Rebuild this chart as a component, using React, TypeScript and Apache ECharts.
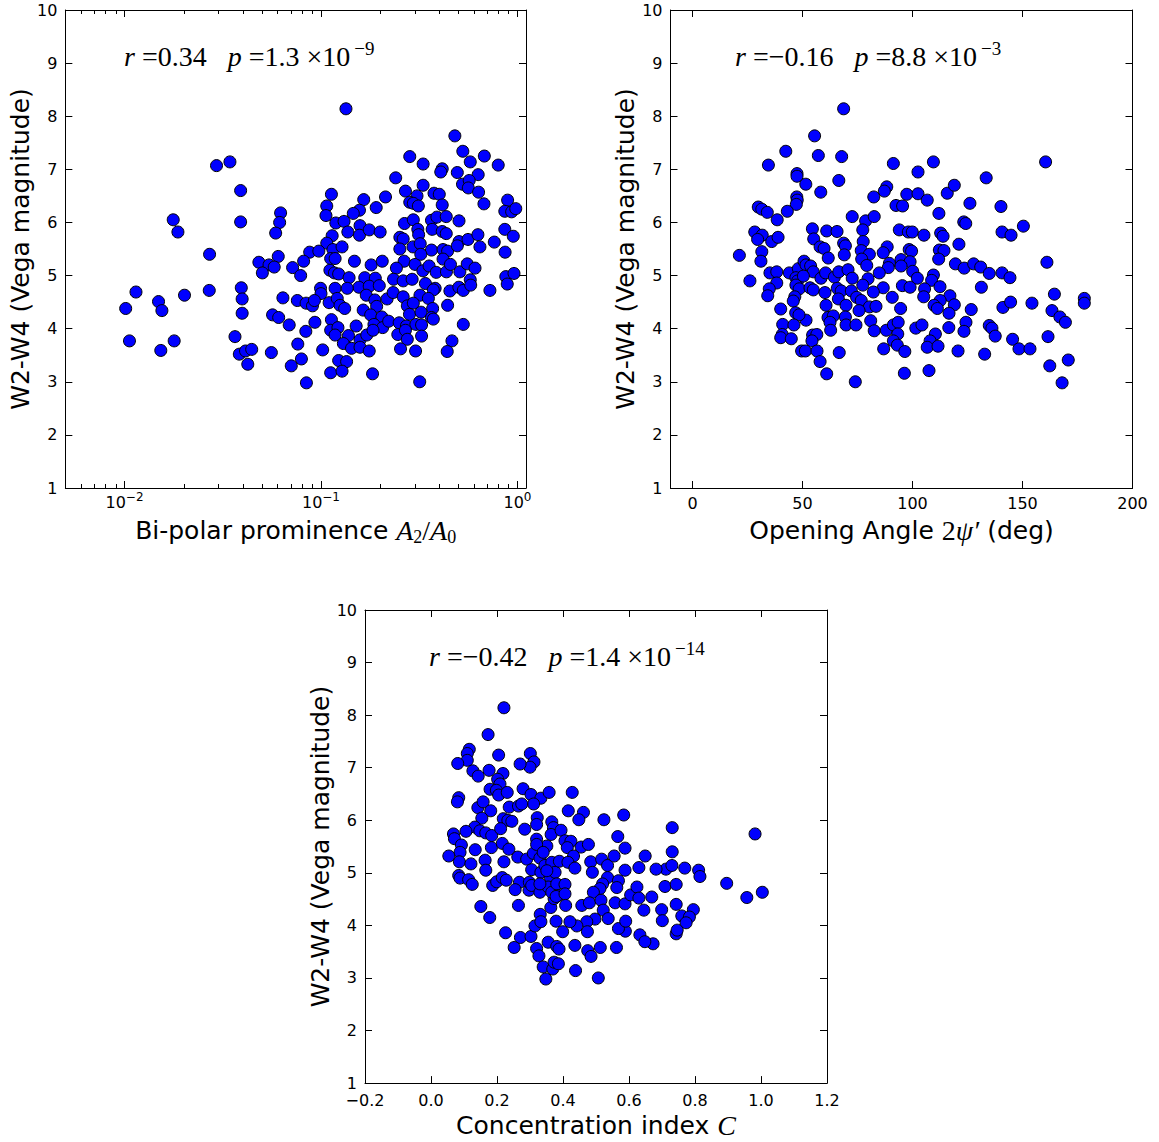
import React, { useEffect, useRef } from 'react';
import * as echarts from 'echarts';

// ---------- data ----------
// Panel 1: bi-polar prominence A2/A0 vs W2-W4
const bipolarPoints: [number, number][] = [
  [0.0294, 7.07], [0.0344, 7.14], [0.039, 6.6], [0.0177, 6.05], [0.0187, 5.82], [0.039, 6.01], [0.0271, 5.4],
  [0.01144, 4.69], [0.01014, 4.38], [0.0149, 4.51], [0.0155, 4.34], [0.0202, 4.63], [0.027, 4.72], [0.0393, 4.77],
  [0.0397, 4.56], [0.0397, 4.29], [0.0106, 3.77], [0.0153, 3.59], [0.0179, 3.77], [0.0365, 3.85], [0.0384, 3.52],
  [0.0413, 3.58], [0.0444, 3.61], [0.0424, 3.33],
  [0.134, 8.14], [0.113, 6.53], [0.165, 6.43], [0.213, 6.48], [0.107, 6.31], [0.106, 6.13], [0.157, 6.23],
  [0.146, 6.17], [0.191, 6.28], [0.0623, 6.18], [0.0616, 6.0], [0.0588, 5.8], [0.119, 5.99], [0.131, 6.02],
  [0.158, 5.94], [0.137, 5.82], [0.157, 5.76], [0.176, 5.86], [0.2, 5.82], [0.114, 5.75], [0.107, 5.61],
  [0.115, 5.49], [0.128, 5.54], [0.0876, 5.44], [0.0975, 5.46], [0.112, 5.32], [0.118, 5.32], [0.0816, 5.27],
  [0.0717, 5.15], [0.0788, 5.0], [0.0606, 5.36], [0.0483, 5.25], [0.0544, 5.2], [0.0578, 5.16], [0.0503, 5.05],
  [0.148, 5.27], [0.18, 5.2], [0.205, 5.27], [0.111, 5.1], [0.117, 5.05], [0.123, 5.03], [0.139, 4.96],
  [0.167, 4.96], [0.189, 4.95], [0.156, 4.78], [0.176, 4.8], [0.198, 4.81], [0.0995, 4.76], [0.118, 4.76],
  [0.136, 4.76], [0.1, 4.66], [0.064, 4.58], [0.0758, 4.53], [0.084, 4.48], [0.0905, 4.43], [0.0926, 4.53],
  [0.11, 4.49], [0.121, 4.57], [0.125, 4.44], [0.132, 4.38], [0.17, 4.63], [0.188, 4.54], [0.217, 4.56],
  [0.164, 4.35], [0.192, 4.42], [0.0567, 4.26], [0.0609, 4.21], [0.0689, 4.07], [0.0931, 4.12], [0.0837, 3.95],
  [0.113, 4.17], [0.112, 3.97], [0.122, 4.02], [0.151, 4.05], [0.179, 4.26], [0.204, 4.22], [0.186, 4.08],
  [0.206, 4.02], [0.221, 4.14], [0.118, 3.88], [0.138, 3.87], [0.158, 3.79], [0.171, 3.88], [0.184, 3.97],
  [0.13, 3.72], [0.143, 3.63], [0.158, 3.65], [0.176, 3.58], [0.0762, 3.71], [0.102, 3.6], [0.0559, 3.55],
  [0.0795, 3.43], [0.0706, 3.3], [0.123, 3.4], [0.135, 3.38], [0.112, 3.17], [0.128, 3.2], [0.0843, 2.98],
  [0.183, 3.15],
  [0.48, 7.63], [0.527, 7.34], [0.575, 7.14], [0.678, 7.25], [0.798, 7.08], [0.283, 7.24], [0.331, 7.1],
  [0.414, 7.01], [0.407, 6.95], [0.494, 6.94], [0.631, 6.9], [0.24, 6.84], [0.331, 6.7], [0.525, 6.72],
  [0.568, 6.79], [0.562, 6.65], [0.634, 6.57], [0.675, 6.35], [0.269, 6.59], [0.308, 6.5], [0.283, 6.38],
  [0.295, 6.36], [0.313, 6.31], [0.376, 6.55], [0.4, 6.53], [0.414, 6.33], [0.891, 6.42], [0.862, 6.21],
  [0.934, 6.2], [0.98, 6.26], [0.365, 6.04], [0.389, 6.1], [0.434, 6.11], [0.504, 6.03], [0.266, 5.98],
  [0.295, 6.05], [0.311, 5.87], [0.314, 5.77], [0.368, 5.87], [0.414, 5.83], [0.434, 5.79], [0.252, 5.72],
  [0.262, 5.69], [0.252, 5.5], [0.294, 5.54], [0.32, 5.6], [0.365, 5.48], [0.418, 5.49], [0.441, 5.46],
  [0.504, 5.64], [0.494, 5.56], [0.56, 5.68], [0.629, 5.77], [0.644, 5.54], [0.762, 5.63], [0.862, 5.87],
  [0.952, 5.74], [0.865, 5.44], [0.265, 5.27], [0.301, 5.21], [0.322, 5.4], [0.242, 5.14], [0.33, 5.09],
  [0.355, 5.18], [0.386, 5.06], [0.418, 5.31], [0.435, 5.07], [0.456, 5.21], [0.509, 5.07], [0.555, 5.22],
  [0.608, 5.14], [0.234, 4.93], [0.262, 4.9], [0.291, 4.93], [0.34, 4.85], [0.381, 4.76], [0.373, 4.73],
  [0.453, 4.71], [0.503, 4.78], [0.53, 4.72], [0.575, 4.92], [0.578, 4.82], [0.724, 4.72], [0.872, 4.98],
  [0.887, 4.84], [0.96, 5.04], [0.233, 4.68], [0.262, 4.6], [0.319, 4.63], [0.352, 4.57], [0.275, 4.43],
  [0.295, 4.48], [0.37, 4.38], [0.441, 4.44], [0.282, 4.27], [0.323, 4.31], [0.365, 4.21], [0.373, 4.18],
  [0.25, 4.11], [0.272, 4.05], [0.304, 4.08], [0.325, 4.07], [0.53, 4.08], [0.246, 3.89], [0.269, 3.97],
  [0.275, 3.8], [0.325, 3.86], [0.254, 3.62], [0.303, 3.58], [0.464, 3.77], [0.439, 3.57], [0.318, 3.0],
];

// Panel 2: opening angle 2psi' (deg) vs W2-W4
const anglePoints: [number, number][] = [
  [68.7, 8.14], [55.5, 7.63], [42.4, 7.34], [57.2, 7.26], [67.8, 7.24], [34.5, 7.08], [47.5, 6.92], [47.5, 6.87],
  [51.5, 6.72], [66.5, 6.79], [58.3, 6.57], [47.4, 6.48], [47.6, 6.42], [47.2, 6.34], [43.1, 6.21], [29.9, 6.29],
  [31.5, 6.25], [34.0, 6.19], [38.5, 6.05], [72.6, 6.11], [28.3, 5.82], [31.7, 5.76], [29.6, 5.68], [36.0, 5.64],
  [38.9, 5.72], [54.5, 5.88], [55.1, 5.69], [61.0, 5.84], [65.7, 5.83], [68.7, 5.61], [69.5, 5.56], [69.0, 5.39],
  [58.0, 5.54], [59.8, 5.51], [61.7, 5.33], [21.3, 5.38], [31.5, 5.45], [31.1, 5.27], [26.1, 4.9], [35.2, 5.05],
  [38.3, 5.07], [38.3, 4.86], [34.9, 4.75], [34.2, 4.62], [44.0, 5.05], [48.1, 5.13], [50.7, 5.27], [51.6, 5.2],
  [53.7, 5.18], [54.9, 5.07], [47.0, 4.96], [47.8, 4.9], [50.4, 4.99], [47.0, 4.82], [48.5, 4.75], [53.4, 4.77],
  [54.9, 4.73], [58.4, 4.95], [60.5, 5.05], [64.5, 4.97], [66.5, 5.07], [70.7, 5.11], [72.6, 4.95], [60.2, 4.68],
  [65.8, 4.76], [67.6, 4.71], [72.2, 4.71], [74.6, 4.59], [66.3, 4.56], [46.5, 4.6], [45.8, 4.52], [40.1, 4.37],
  [60.7, 4.44], [69.8, 4.44], [46.9, 4.3], [51.6, 4.16], [48.4, 4.26], [41.0, 4.08], [46.1, 4.07], [61.6, 4.21],
  [64.0, 4.24], [62.5, 4.12], [62.8, 3.97], [69.5, 4.22], [69.8, 4.07], [74.3, 4.07], [40.8, 3.89], [40.1, 3.83],
  [44.9, 3.81], [54.6, 3.88], [56.5, 3.89], [54.3, 3.77], [49.6, 3.58], [51.3, 3.58], [56.6, 3.58], [66.7, 3.55],
  [58.0, 3.38], [61.0, 3.15], [74.0, 3.0],
  [91.3, 7.11], [109.5, 7.14], [102.5, 6.95], [133.5, 6.84], [88.3, 6.67], [87.2, 6.59], [82.4, 6.48], [97.4, 6.53],
  [102.5, 6.54], [106.7, 6.42], [92.5, 6.32], [95.5, 6.31], [115.8, 6.55], [119.0, 6.7], [126.1, 6.36], [112.0, 6.17],
  [78.7, 6.03], [82.6, 6.11], [77.4, 5.86], [94.0, 5.86], [98.1, 5.82], [99.9, 5.82], [105.2, 5.76], [112.8, 5.8],
  [113.9, 5.74], [123.3, 6.01], [124.2, 5.98], [121.1, 5.59], [77.6, 5.64], [76.7, 5.47], [80.4, 5.4], [76.9, 5.31],
  [79.2, 5.19], [88.5, 5.54], [86.7, 5.43], [98.5, 5.49], [99.6, 5.46], [112.2, 5.48], [114.3, 5.47], [111.9, 5.31],
  [94.8, 5.3], [98.9, 5.26], [89.5, 5.23], [89.0, 5.15], [94.8, 5.18], [84.9, 5.05], [100.1, 5.08], [102.2, 4.95],
  [109.5, 5.01], [108.7, 4.91], [119.5, 5.22], [123.5, 5.14], [127.8, 5.22], [131.0, 5.16], [79.8, 4.94], [77.4, 4.82],
  [86.7, 4.77], [90.8, 4.59], [95.4, 4.81], [98.9, 4.78], [82.2, 4.69], [76.7, 4.53], [80.4, 4.41], [83.4, 4.42],
  [75.7, 4.34], [105.5, 4.75], [105.1, 4.6], [112.5, 4.79], [117.0, 4.62], [112.6, 4.53], [109.8, 4.44], [111.3, 4.38],
  [119.0, 4.45], [116.6, 4.29], [126.7, 4.36], [94.6, 4.38], [81.0, 4.15], [82.6, 3.96], [88.1, 3.97], [91.3, 4.07],
  [93.5, 4.12], [93.3, 3.9], [91.3, 3.77], [93.1, 3.69], [96.5, 3.57], [86.9, 3.62], [101.5, 4.01], [104.3, 4.07],
  [116.5, 4.02], [124.3, 4.12], [123.4, 3.95], [110.4, 3.9], [108.0, 3.77], [106.7, 3.65], [111.6, 3.67], [120.7, 3.58],
  [96.3, 3.16], [107.5, 3.21],
  [160.5, 7.14], [140.2, 6.3], [140.7, 5.82], [144.8, 5.76], [150.4, 5.93], [134.9, 5.04], [140.7, 5.05], [144.3, 4.96],
  [131.3, 4.78], [161.1, 5.25], [164.5, 4.65], [141.1, 4.4], [144.6, 4.5], [154.3, 4.48], [163.4, 4.34], [167.0, 4.22],
  [169.5, 4.12], [178.1, 4.57], [178.1, 4.48], [134.9, 4.06], [136.1, 4.01], [137.6, 3.86], [145.5, 3.8], [148.4, 3.62],
  [153.4, 3.62], [161.6, 3.85], [132.8, 3.52], [162.4, 3.3], [170.8, 3.41], [168.0, 2.98],
];

// Panel 3: concentration index C vs W2-W4
const concPoints: [number, number][] = [
  [0.221, 8.14], [0.173, 7.63], [0.116, 7.35], [0.11, 7.27], [0.11, 7.14], [0.081, 7.08], [0.205, 7.24], [0.301, 7.27],
  [0.312, 7.11], [0.3, 7.01], [0.27, 7.07], [0.127, 6.94], [0.143, 6.84], [0.176, 6.95], [0.218, 6.89], [0.202, 6.78],
  [0.209, 6.69], [0.179, 6.59], [0.198, 6.57], [0.205, 6.48], [0.231, 6.53], [0.279, 6.6], [0.303, 6.49], [0.333, 6.42],
  [0.358, 6.53], [0.311, 6.31], [0.084, 6.43], [0.08, 6.35], [0.142, 6.24], [0.158, 6.35], [0.181, 6.18], [0.237, 6.25],
  [0.265, 6.27], [0.275, 6.31], [0.154, 6.04], [0.219, 6.03], [0.233, 6.0], [0.245, 5.98], [0.322, 6.05], [0.133, 5.87],
  [0.106, 5.79], [0.068, 5.74], [0.071, 5.65], [0.148, 5.8], [0.166, 5.76], [0.184, 5.71], [0.211, 5.84], [0.284, 5.83],
  [0.32, 5.92], [0.366, 5.97], [0.371, 5.86], [0.364, 5.73], [0.32, 5.64], [0.351, 5.51], [0.092, 5.53], [0.134, 5.44],
  [0.183, 5.48], [0.216, 5.56], [0.236, 5.45], [0.263, 5.3], [0.088, 5.39], [0.054, 5.32], [0.086, 5.21], [0.121, 5.17],
  [0.164, 5.24], [0.166, 5.05], [0.221, 5.21], [0.29, 5.26], [0.31, 5.37], [0.33, 5.28], [0.084, 4.95], [0.088, 4.9],
  [0.114, 4.87], [0.125, 4.78], [0.187, 4.76], [0.199, 4.83], [0.216, 4.91], [0.228, 4.86], [0.268, 4.82], [0.255, 4.68],
  [0.297, 4.67], [0.298, 4.82], [0.305, 5.06], [0.305, 4.76], [0.33, 4.63], [0.333, 5.01], [0.345, 5.14], [0.361, 4.92],
  [0.355, 4.73], [0.151, 4.36], [0.265, 4.38], [0.331, 4.21], [0.363, 4.34], [0.373, 4.51], [0.178, 4.15], [0.226, 3.86],
  [0.271, 3.77], [0.252, 3.58], [0.303, 3.79], [0.315, 3.99], [0.333, 4.07], [0.379, 4.08], [0.355, 3.68], [0.32, 3.56],
  [0.327, 3.42], [0.381, 3.6], [0.34, 3.21], [0.369, 3.17], [0.373, 3.3], [0.348, 2.98], [0.32, 5.54], [0.34, 5.39],
  [0.366, 5.2], [0.376, 5.01], [0.351, 5.04], [0.33, 4.79], [0.366, 4.63], [0.386, 4.57],
  [0.428, 6.53], [0.416, 6.18], [0.462, 6.15], [0.448, 6.01], [0.524, 6.01], [0.584, 6.1], [0.731, 5.86], [0.566, 5.69],
  [0.394, 5.81], [0.406, 5.61], [0.424, 5.6], [0.413, 5.48], [0.455, 5.49], [0.477, 5.54], [0.432, 5.32], [0.389, 5.22],
  [0.415, 5.2], [0.436, 5.09], [0.484, 5.21], [0.489, 5.01], [0.517, 5.26], [0.535, 5.14], [0.555, 5.32], [0.588, 5.47],
  [0.649, 5.32], [0.63, 5.1], [0.588, 5.05], [0.535, 4.91], [0.52, 4.79], [0.512, 4.7], [0.568, 4.85], [0.563, 4.72],
  [0.492, 4.63], [0.381, 4.79], [0.406, 4.78], [0.379, 4.55], [0.406, 4.6], [0.408, 4.38], [0.457, 4.38], [0.48, 4.43],
  [0.515, 4.48], [0.522, 4.29], [0.558, 4.43], [0.588, 4.41], [0.605, 4.58], [0.624, 4.73], [0.63, 4.52], [0.645, 4.29],
  [0.669, 4.54], [0.699, 4.3], [0.709, 4.74], [0.712, 5.07], [0.682, 5.07], [0.731, 5.4], [0.743, 4.78], [0.701, 4.09],
  [0.743, 4.4], [0.743, 3.84], [0.673, 3.65], [0.633, 3.82], [0.648, 3.69], [0.589, 3.89], [0.568, 3.94], [0.59, 4.08],
  [0.537, 4.13], [0.497, 4.12], [0.472, 4.07], [0.442, 3.99], [0.474, 3.88], [0.421, 4.07], [0.399, 3.88], [0.388, 3.55],
  [0.436, 3.62], [0.475, 3.52], [0.485, 3.41], [0.513, 3.58], [0.562, 3.58], [0.386, 3.27], [0.438, 3.14], [0.507, 3.0],
  [0.982, 5.74], [0.73, 5.14], [0.769, 5.09], [0.811, 5.05], [0.815, 4.93], [0.896, 4.8], [0.957, 4.53], [1.004, 4.63],
  [0.795, 4.3], [0.76, 4.18], [0.783, 4.16], [0.773, 4.05], [0.746, 3.91],
];

// Axis ticks
const bipolarMinorTicks = [
  0.006, 0.007, 0.008, 0.009,
  0.02, 0.03, 0.04, 0.05, 0.06, 0.07, 0.08, 0.09,
  0.2, 0.3, 0.4, 0.5, 0.6, 0.7, 0.8, 0.9,
];
const angleTicks = [0, 50, 100, 150, 200];

// Correlation annotations
const statR = ['0.34', '−0.16', '−0.42'];
const statP = ['1.3', '8.8', '1.4'];
const statExp = ['−9', '−3', '−14'];

// ---------- styling ----------
const SANS = "'DejaVu Sans', sans-serif";
const SERIF = "'Liberation Serif', 'DejaVu Serif', serif";
const BLACK = '#000';

const axisLine = { show: true, onZero: false, lineStyle: { color: BLACK, width: 1 } };
const majorTick = { show: true, inside: true, length: 7, lineStyle: { color: BLACK, width: 1 } };

const nameRich = {
  m: { fontFamily: SERIF, fontStyle: 'italic', fontSize: 28, lineHeight: 32, color: BLACK },
  r: { fontFamily: SERIF, fontSize: 28, lineHeight: 32, color: BLACK },
  sub: { fontFamily: SERIF, fontSize: 18, lineHeight: 18, verticalAlign: 'bottom', color: BLACK },
};
const nameStyle = { fontFamily: SANS, fontSize: 25, color: BLACK, lineHeight: 32, rich: nameRich };

const grids = [
  { left: 65.35, top: 10, width: 460.65, height: 478 },
  { left: 670.5, top: 10, width: 462, height: 478 },
  { left: 365, top: 610, width: 462, height: 478 },
];

function yAxisPair(gridIndex: number) {
  return [
    {
      type: 'value', gridIndex, position: 'left', min: 1, max: 10, interval: 1,
      name: 'W2-W4 (Vega magnitude)', nameLocation: 'middle', nameGap: 25,
      nameTextStyle: { fontFamily: SANS, fontSize: 25, color: BLACK },
      axisLine, axisTick: majorTick,
      axisLabel: { color: BLACK, fontFamily: SANS, fontSize: 16, margin: 8 },
      splitLine: { show: false },
    },
    {
      type: 'value', gridIndex, position: 'right', min: 1, max: 10, interval: 1,
      axisLine, axisTick: majorTick, axisLabel: { show: false }, splitLine: { show: false },
    },
  ];
}

const supRich = {
  b: { fontFamily: SANS, fontSize: 16, lineHeight: 23, color: BLACK },
  s: { fontFamily: SANS, fontSize: 12, lineHeight: 12, verticalAlign: 'top', color: BLACK },
};

const eqRich = {
  i: { fontFamily: SERIF, fontStyle: 'italic', fontSize: 28, lineHeight: 34, color: BLACK },
  n: { fontFamily: SERIF, fontSize: 28, lineHeight: 34, color: BLACK },
  s: { fontFamily: SERIF, fontSize: 19, lineHeight: 16, verticalAlign: 'top', padding: [0, 0, 0, 4], color: BLACK },
};
const eqPos = [[124, 56], [735, 56], [429, 656]];

export default function App() {
  const ref = useRef<HTMLDivElement>(null);
  useEffect(() => {
    if (!ref.current) return;
    const chart = echarts.init(ref.current, undefined, { renderer: 'svg' });
    const scatterStyle = { color: '#0000ff', borderColor: BLACK, borderWidth: 1, opacity: 1 };
    const option: any = {
      animation: false,
      backgroundColor: '#fff',
      grid: grids,
      xAxis: [
        {
          type: 'log', logBase: 10, gridIndex: 0, position: 'bottom', min: 0.005, max: 1.105,
          name: 'Bi-polar prominence {m|A}{sub|2}{r|/}{m|A}{sub|0}', nameLocation: 'middle', nameGap: 26,
          nameTextStyle: nameStyle,
          axisLine, axisTick: majorTick,
          axisLabel: {
            showMinLabel: false, showMaxLabel: false, margin: 3,
            formatter: (v: number) => {
              const e = Math.round(Math.log10(v));
              return '{b|10}{s|' + (e < 0 ? '−' : '') + Math.abs(e) + '}';
            },
            rich: supRich,
          },
          splitLine: { show: false },
        },
        {
          type: 'log', logBase: 10, gridIndex: 0, position: 'top', min: 0.005, max: 1.105,
          axisLine, axisTick: majorTick, axisLabel: { show: false }, splitLine: { show: false },
        },
        {
          type: 'value', gridIndex: 1, position: 'bottom', min: -10, max: 200,
          name: 'Opening Angle {r|2}{m|ψ′} (deg)', nameLocation: 'middle', nameGap: 26,
          nameTextStyle: nameStyle,
          axisLine, axisTick: { ...majorTick, customValues: angleTicks },
          axisLabel: { customValues: angleTicks, color: BLACK, fontFamily: SANS, fontSize: 16, margin: 7 },
          splitLine: { show: false },
        },
        {
          type: 'value', gridIndex: 1, position: 'top', min: -10, max: 200,
          axisLine, axisTick: { ...majorTick, customValues: angleTicks }, axisLabel: { show: false },
          splitLine: { show: false },
        },
        {
          type: 'value', gridIndex: 2, position: 'bottom', min: -0.2, max: 1.2, interval: 0.2,
          name: 'Concentration index {m|C}', nameLocation: 'middle', nameGap: 25,
          nameTextStyle: nameStyle,
          axisLine, axisTick: majorTick,
          axisLabel: {
            color: BLACK, fontFamily: SANS, fontSize: 16, margin: 9,
            formatter: (v: number) => (v < -1e-9 ? '−' : '') + Math.abs(v).toFixed(1),
          },
          splitLine: { show: false },
        },
        {
          type: 'value', gridIndex: 2, position: 'top', min: -0.2, max: 1.2, interval: 0.2,
          axisLine, axisTick: majorTick, axisLabel: { show: false }, splitLine: { show: false },
        },
      ],
      yAxis: [...yAxisPair(0), ...yAxisPair(1), ...yAxisPair(2)],
      series: [
        {
          type: 'custom', xAxisIndex: 0, yAxisIndex: 0, silent: true, clip: false, z: 5,
          data: bipolarMinorTicks.map((v) => [v, 1]),
          renderItem: (_p: any, api: any) => {
            const v = api.value(0);
            const b = api.coord([v, 1]);
            const t = api.coord([v, 10]);
            const x = Math.round(b[0]) + 0.5;
            return {
              type: 'group',
              children: [
                { type: 'line', shape: { x1: x, y1: b[1], x2: x, y2: b[1] - 4 }, style: { stroke: BLACK, lineWidth: 1 } },
                { type: 'line', shape: { x1: x, y1: t[1], x2: x, y2: t[1] + 4 }, style: { stroke: BLACK, lineWidth: 1 } },
              ],
            };
          },
        },
        {
          type: 'scatter', xAxisIndex: 0, yAxisIndex: 0, data: bipolarPoints, symbolSize: 12,
          itemStyle: scatterStyle, silent: true,
        },
        {
          type: 'scatter', xAxisIndex: 2, yAxisIndex: 2, data: anglePoints, symbolSize: 12,
          itemStyle: scatterStyle, silent: true,
        },
        {
          type: 'scatter', xAxisIndex: 4, yAxisIndex: 4, data: concPoints, symbolSize: 12,
          itemStyle: scatterStyle, silent: true,
        },
      ],
      graphic: statR.map((r, i) => ({
        type: 'text',
        x: eqPos[i][0],
        y: eqPos[i][1],
        silent: true,
        style: {
          text: `{i|r}{n| =${r}}{n|   }{i|p}{n| =${statP[i]} ×10}{s|${statExp[i]}}`,
          rich: eqRich,
          verticalAlign: 'middle',
          align: 'left',
          fill: BLACK,
        },
      })),
    };
    chart.setOption(option);
    return () => chart.dispose();
  }, []);
  return (
    <div
      ref={ref}
      style={{ position: 'fixed', left: 0, top: 0, width: 1159, height: 1142, background: '#fff' }}
    />
  );
}
